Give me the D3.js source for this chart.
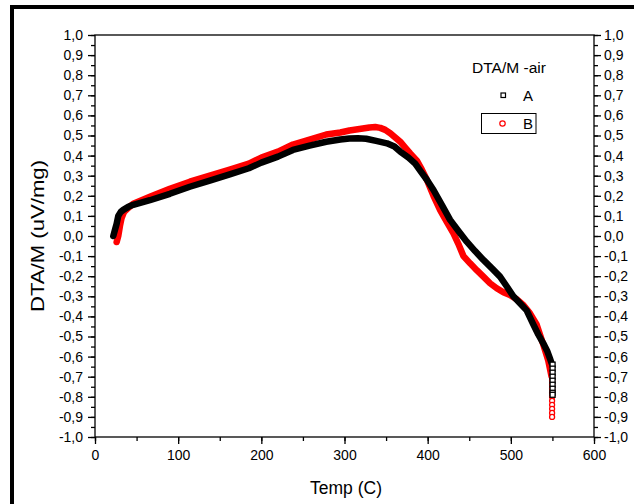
<!DOCTYPE html>
<html>
<head>
<meta charset="utf-8">
<script src="https://cdn.jsdelivr.net/npm/d3@7"></script>
<style>
  body { margin: 0; background: #fff; }
  svg text { font-family: "Liberation Sans", Arial, sans-serif; }
</style>
</head>
<body>
<svg id="chart" width="634" height="504"></svg>
<script>
// sample A (black squares)
var tempA = [22, 24, 26, 28, 31, 34, 40, 46, 66, 90, 114, 138, 162, 185, 200, 220, 238, 258, 278, 295, 306, 316, 326, 338, 351, 360, 367, 377, 385, 391, 399, 407, 417, 427, 437, 447, 457, 467, 477, 487, 495, 503, 511, 519, 527, 533, 539, 544, 547, 549];
var dtaA = [0.0, 0.03, 0.06, 0.10, 0.12, 0.13, 0.145, 0.155, 0.178, 0.21, 0.245, 0.275, 0.307, 0.337, 0.365, 0.395, 0.428, 0.45, 0.469, 0.48, 0.485, 0.486, 0.484, 0.473, 0.461, 0.445, 0.42, 0.39, 0.36, 0.325, 0.28, 0.229, 0.155, 0.08, 0.025, -0.028, -0.075, -0.119, -0.16, -0.202, -0.25, -0.30, -0.335, -0.37, -0.44, -0.49, -0.534, -0.575, -0.609, -0.633];
var tailA = [-0.64, -0.66, -0.68, -0.70, -0.72, -0.74, -0.76, -0.78, -0.79];

// sample B (red circles)
var tempB = [26, 28, 30, 32, 35, 40, 46, 66, 90, 114, 138, 162, 185, 200, 220, 238, 258, 278, 295, 306, 318, 330, 337, 343, 349, 355, 361, 367, 373, 379, 387, 393, 399, 407, 415, 423, 431, 437, 443, 451, 459, 467, 475, 483, 491, 499, 507, 515, 523, 531, 539, 545, 549];
var dtaB = [-0.03, 0.0, 0.05, 0.09, 0.12, 0.14, 0.16, 0.195, 0.235, 0.27, 0.30, 0.33, 0.36, 0.39, 0.42, 0.455, 0.48, 0.505, 0.515, 0.525, 0.532, 0.54, 0.542, 0.538, 0.528, 0.511, 0.49, 0.469, 0.44, 0.411, 0.375, 0.33, 0.28, 0.2, 0.129, 0.07, 0.013, -0.04, -0.1, -0.136, -0.17, -0.202, -0.235, -0.26, -0.28, -0.294, -0.315, -0.343, -0.385, -0.44, -0.54, -0.62, -0.70];
var tailB = [-0.70, -0.72, -0.74, -0.76, -0.78, -0.80, -0.82, -0.84, -0.86, -0.88, -0.90];
var tailTemp = 549;

var xTicks = [0, 100, 200, 300, 400, 500, 600];
var yTicks = [-1.0, -0.9, -0.8, -0.7, -0.6, -0.5, -0.4, -0.3, -0.2, -0.1, 0.0, 0.1, 0.2, 0.3, 0.4, 0.5, 0.6, 0.7, 0.8, 0.9, 1.0];

var svg = d3.select('#chart');
var pLeft = 95, pRight = 594, pTop = 35, pBottom = 437;

var x = d3.scaleLinear().domain([0, 600]).range([pLeft, pRight]);
var y = d3.scaleLinear().domain([-1, 1]).range([pBottom, pTop]);

var fmt = function(d) { return d3.format('.1f')(d).replace('.', ',').replace('−', '-'); };

// outer frame
svg.append('rect').attr('x', 12).attr('y', 7).attr('width', 640).attr('height', 520)
   .attr('fill', 'none').attr('stroke', '#000').attr('stroke-width', 4);

// plot box
svg.append('rect').attr('x', pLeft).attr('y', pTop).attr('width', pRight - pLeft).attr('height', pBottom - pTop)
   .attr('fill', 'none').attr('stroke', '#000').attr('stroke-width', 1.3);

// minor ticks
var minorY = d3.range(-1, 1.0001, 0.05);
var minorX = d3.range(0, 600.1, 50);

svg.append('g').attr('transform', 'translate(' + pLeft + ',0)')
   .call(d3.axisLeft(y).tickValues(minorY).tickSize(4).tickFormat(''))
   .call(function(g) { g.select('.domain').remove(); });
svg.append('g').attr('transform', 'translate(' + pRight + ',0)')
   .call(d3.axisRight(y).tickValues(minorY).tickSize(4).tickFormat(''))
   .call(function(g) { g.select('.domain').remove(); });
svg.append('g').attr('transform', 'translate(0,' + pBottom + ')')
   .call(d3.axisBottom(x).tickValues(minorX).tickSize(4).tickFormat(''))
   .call(function(g) { g.select('.domain').remove(); });

// major ticks with labels
var yl = svg.append('g').attr('transform', 'translate(' + pLeft + ',0)')
   .call(d3.axisLeft(y).tickValues(yTicks).tickSize(7).tickPadding(5).tickFormat(fmt));
var yr = svg.append('g').attr('transform', 'translate(' + pRight + ',0)')
   .call(d3.axisRight(y).tickValues(yTicks).tickSize(7).tickPadding(3).tickFormat(fmt));
var xb = svg.append('g').attr('transform', 'translate(0,' + pBottom + ')')
   .call(d3.axisBottom(x).tickValues(xTicks).tickSize(7).tickPadding(6).tickFormat(d3.format('d')));

[yl, yr, xb].forEach(function(g) {
  g.select('.domain').remove();
  g.selectAll('text').attr('font-size', 14).attr('fill', '#000')
   .style('font-family', '"Liberation Sans", Arial, sans-serif');
});
svg.selectAll('.tick line').attr('stroke', '#000').attr('stroke-width', 1.3);

// axis titles
svg.append('text').attr('x', 346).attr('y', 494).attr('text-anchor', 'middle')
   .attr('font-size', 17.5).text('Temp (C)');
svg.append('text').attr('transform', 'translate(44,236) rotate(-90)').attr('text-anchor', 'middle')
   .attr('font-size', 18.5).attr('textLength', 152).attr('lengthAdjust', 'spacingAndGlyphs')
   .text('DTA/M (uV/mg)');

// curves
var line = d3.line().x(function(d) { return x(d[0]); }).y(function(d) { return y(d[1]); });
var ptsA = tempA.map(function(t, i) { return [t, dtaA[i]]; });
var ptsB = tempB.map(function(t, i) { return [t, dtaB[i]]; });

svg.append('path').datum(ptsB).attr('d', line).attr('fill', 'none')
   .attr('stroke', '#ff0000').attr('stroke-width', 6.5).attr('stroke-linejoin', 'round').attr('stroke-linecap', 'round');
svg.selectAll('.tb').data(tailB).enter().append('circle')
   .attr('cx', x(tailTemp) + 0.5).attr('cy', function(d) { return y(d); }).attr('r', 2.5)
   .attr('fill', '#fff').attr('stroke', '#ff0000').attr('stroke-width', 1.3);

svg.append('path').datum(ptsA).attr('d', line).attr('fill', 'none')
   .attr('stroke', '#000').attr('stroke-width', 6.5).attr('stroke-linejoin', 'round').attr('stroke-linecap', 'round');
svg.selectAll('.ta').data(tailA).enter().append('rect')
   .attr('x', x(tailTemp) - 1.5).attr('y', function(d) { return y(d) - 2.5; })
   .attr('width', 5).attr('height', 5)
   .attr('fill', '#fff').attr('stroke', '#000').attr('stroke-width', 1.3);

// legend
svg.append('text').attr('x', 509).attr('y', 73).attr('text-anchor', 'middle')
   .attr('font-size', 15.5).text('DTA/M -air');
svg.append('rect').attr('x', 501).attr('y', 93).attr('width', 4.5).attr('height', 4.5)
   .attr('fill', '#fff').attr('stroke', '#000').attr('stroke-width', 1.2);
svg.append('text').attr('x', 523).attr('y', 101).attr('font-size', 15).text('A');
svg.append('rect').attr('x', 481.5).attr('y', 113.5).attr('width', 54.5).attr('height', 20)
   .attr('fill', 'none').attr('stroke', '#000').attr('stroke-width', 1);
svg.append('circle').attr('cx', 502.5).attr('cy', 123.5).attr('r', 2.7)
   .attr('fill', '#fff').attr('stroke', '#ff0000').attr('stroke-width', 1.2);
svg.append('text').attr('x', 523).attr('y', 129).attr('font-size', 15).text('B');
</script>
</body>
</html>
